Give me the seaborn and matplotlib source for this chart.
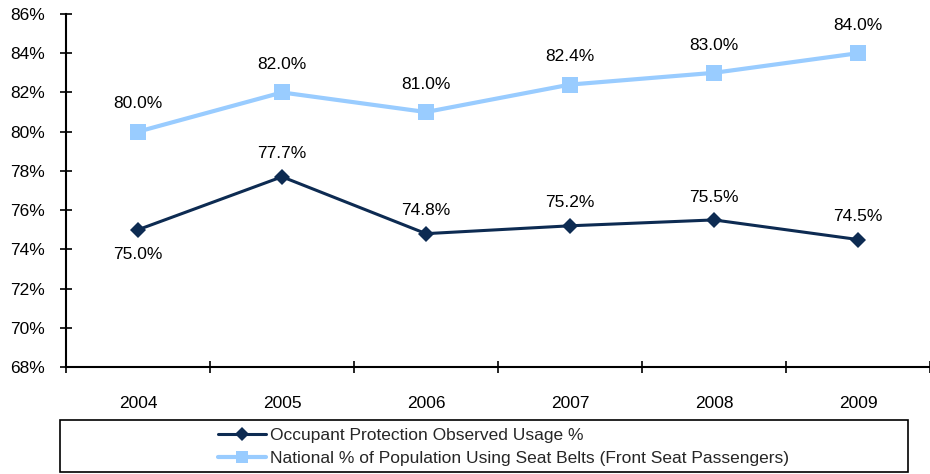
import matplotlib
matplotlib.use("Agg")
import matplotlib.pyplot as plt
import seaborn as sns
import pandas as pd
import numpy as np
from matplotlib.patches import Rectangle

years = ["2004", "2005", "2006", "2007", "2008", "2009"]
observed = [75.0, 77.7, 74.8, 75.2, 75.5, 74.5]
national = [80.0, 82.0, 81.0, 82.4, 83.0, 84.0]
series_names = ["Occupant Protection Observed Usage %",
                "National % of Population Using Seat Belts (Front Seat Passengers)"]
y_ticks = [68, 70, 72, 74, 76, 78, 80, 82, 84, 86]

dark = "#0D2B52"
light = "#99CCFF"

sns.set_theme(style="white")
plt.rcParams["font.family"] = ["Liberation Sans", "DejaVu Sans"]
fs = 12.5

df = pd.DataFrame({
    "year": years * 2,
    "value": observed + national,
    "series": [series_names[0]] * len(years) + [series_names[1]] * len(years),
})

fig = plt.figure(figsize=(9.3, 4.74), dpi=100)
ax = fig.add_axes([0.071, 0.2257, 0.929, 0.7448])

sns.lineplot(data=df, x="year", y="value", hue="series", style="series",
             palette=[dark, light], markers=["D", "s"], dashes=False,
             ax=ax, legend=False)
lines = ax.get_lines()
lines[0].set_linewidth(2.2)
lines[0].set_markersize(8)
lines[0].set_markeredgewidth(0)
lines[0].set_zorder(3)
lines[1].set_linewidth(3)
lines[1].set_markersize(12)
lines[1].set_markeredgewidth(0)

for i, v in enumerate(national):
    ax.annotate(f"{v:.1f}%", (i, v), xytext=(0, 20), textcoords="offset points",
                ha="center", va="center", fontsize=fs, color="black")
for i, v in enumerate(observed):
    off = -18 if i == 0 else 16.5
    ax.annotate(f"{v:.1f}%", (i, v), xytext=(0, off), textcoords="offset points",
                ha="center", va="center", fontsize=fs, color="black")

ax.set_xlim(-0.5, len(years) - 0.5)
ax.set_ylim(68, 86)
ax.set_yticks(y_ticks)
ax.set_yticklabels([f"{t}%" for t in y_ticks], fontsize=fs)
ax.set_xticks(range(len(years)))
ax.set_xticklabels(years, fontsize=fs)
ax.set_xticks(np.arange(-0.5, len(years), 1.0), minor=True)
ax.tick_params(axis="x", which="major", length=0, pad=21, colors="black")
ax.tick_params(axis="x", which="minor", direction="inout", length=9, width=1.2, color="black", bottom=True)
ax.tick_params(axis="y", direction="inout", length=9, width=1.2, color="black", left=True, pad=11, colors="black")
ax.set_xlabel("")
ax.set_ylabel("")
for s in ["top", "right"]:
    ax.spines[s].set_visible(False)
for s in ["left", "bottom"]:
    ax.spines[s].set_color("black")
    ax.spines[s].set_linewidth(1.5)

# legend with rectangular frame
fig.patches.append(Rectangle((60 / 930, 1 - 472 / 474), 848 / 930, 52 / 474,
                             transform=fig.transFigure, fill=False,
                             edgecolor="black", linewidth=1.2))
handles = [lines[0], lines[1]]
leg = fig.legend(handles, series_names, loc="upper left",
                 bbox_to_anchor=(218 / 930, 1 - 428 / 474), frameon=False,
                 fontsize=fs, handlelength=2.75, handletextpad=0.25,
                 labelspacing=0.46, borderpad=0, borderaxespad=0)
for h, ms in zip(leg.legend_handles, [7, 9]):
    h.set_markersize(ms)

fig.savefig("out.png", dpi=100)
